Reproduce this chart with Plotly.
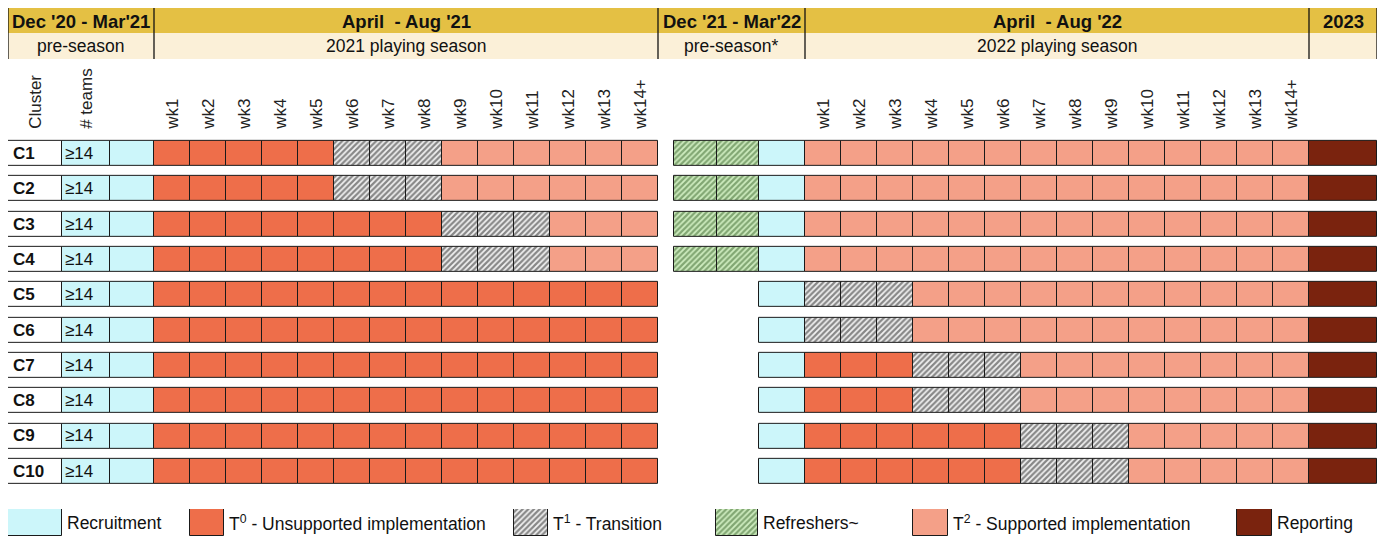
import plotly.graph_objects as go

# ---------------- data ----------------
clusters = ["C1", "C2", "C3", "C4", "C5", "C6", "C7", "C8", "C9", "C10"]
teams = ["≥14", "≥14", "≥14", "≥14", "≥14", "≥14", "≥14", "≥14", "≥14", "≥14"]
weeks = ["wk1", "wk2", "wk3", "wk4", "wk5", "wk6", "wk7", "wk8", "wk9",
         "wk10", "wk11", "wk12", "wk13", "wk14+"]

# pre-season 2020/21: R = recruitment
preseason21 = ["R", "R", "R", "R", "R", "R", "R", "R", "R", "R"]
# 2021 playing season, one char per week: 0 = T0, 1 = T1, 2 = T2
season21 = [
    "00000111222222",
    "00000111222222",
    "00000000111222",
    "00000000111222",
    "00000000000000",
    "00000000000000",
    "00000000000000",
    "00000000000000",
    "00000000000000",
    "00000000000000",
]
# pre-season 2021/22: F = refresher, R = recruitment, - = nothing
preseason22 = ["FFR", "FFR", "FFR", "FFR", "--R", "--R", "--R", "--R", "--R", "--R"]
# 2022 playing season
season22 = [
    "22222222222222",
    "22222222222222",
    "22222222222222",
    "22222222222222",
    "11122222222222",
    "11122222222222",
    "00011122222222",
    "00011122222222",
    "00000011122222",
    "00000011122222",
]
# 2023: P = reporting
year23 = ["P", "P", "P", "P", "P", "P", "P", "P", "P", "P"]

header_top = ["Dec '20 - Mar'21", "April  - Aug '21", "Dec '21 - Mar'22", "April  - Aug '22", "2023"]
header_sub = ["pre-season", "2021 playing season", "pre-season*", "2022 playing season", ""]

legend_codes = ["R", "0", "1", "F", "2", "P"]
legend_labels = ["Recruitment", "T<sup>0</sup> - Unsupported implementation", "T<sup>1</sup> - Transition",
                 "Refreshers~", "T<sup>2</sup> - Supported implementation", "Reporting"]

# ---------------- styles / layout geometry (page pixel units) ----------------
OFF = 8                      # page body margin
W, H = 1385 - OFF, 536 - OFF  # figure size
X0 = 8
W_CLUSTER, W_TEAMS, W_RECRUIT, W_WEEK = 54, 48, 44, 36
W_GAP, W_REFRESH, W_RECRUIT2, W_REPORT = 16, 42.5, 46, 68

styles = {
    "R": dict(color="#CCF6FA"),
    "0": dict(color="#EE6E4A"),
    "1": dict(color="#EFEFEF", pattern=dict(shape="/", fgcolor="#1c1c1c", bgcolor="#F2F2F2", size=4, solidity=0.55)),
    "F": dict(color="#CDEBBE", pattern=dict(shape="/", fgcolor="#335F25", bgcolor="#CFEDC0", size=4, solidity=0.55)),
    "2": dict(color="#F4A088"),
    "P": dict(color="#7A230E"),
}
LINE = dict(color="#1a1a1a", width=1)
FONT = "Liberation Sans, Arial, sans-serif"

# column edges
x = X0
col_cluster = (x, x + W_CLUSTER); x += W_CLUSTER
col_teams = (x, x + W_TEAMS); x += W_TEAMS
col_rec21 = (x, x + W_RECRUIT); x += W_RECRUIT
cols_wk21 = []
for _ in weeks:
    cols_wk21.append((x, x + W_WEEK)); x += W_WEEK
season21_end = x
x += W_GAP
cols_pre22 = [(x, x + W_REFRESH), (x + W_REFRESH, x + 2 * W_REFRESH),
              (x + 2 * W_REFRESH, x + 2 * W_REFRESH + W_RECRUIT2)]
x += 2 * W_REFRESH + W_RECRUIT2
cols_wk22 = []
for _ in weeks:
    cols_wk22.append((x, x + W_WEEK)); x += W_WEEK
col_rep = (x, x + W_REPORT)
x_end = x + W_REPORT

# collect cells per status
cells = {k: dict(y=[], base=[], w=[]) for k in styles}

def add(code, c, col):
    if code in cells:
        cells[code]["y"].append(c)
        cells[code]["base"].append(col[0])
        cells[code]["w"].append(col[1] - col[0])

for i, c in enumerate(clusters):
    add(preseason21[i], c, col_rec21)
    for j, ch in enumerate(season21[i]):
        add(ch, c, cols_wk21[j])
    for j, ch in enumerate(preseason22[i]):
        add(ch, c, cols_pre22[j])
    for j, ch in enumerate(season22[i]):
        add(ch, c, cols_wk22[j])
    add(year23[i], c, col_rep)

fig = go.Figure()
BARW = 0.71

# cluster and teams columns
fig.add_trace(go.Bar(orientation="h", y=clusters, x=[W_CLUSTER] * len(clusters),
                     base=[col_cluster[0]] * len(clusters), width=BARW,
                     marker=dict(color="white", line=LINE), showlegend=False, hoverinfo="skip"))
fig.add_trace(go.Bar(orientation="h", y=clusters, x=[W_TEAMS] * len(clusters),
                     base=[col_teams[0]] * len(clusters), width=BARW,
                     marker=dict(color=styles["R"]["color"], line=LINE), showlegend=False, hoverinfo="skip"))

for code, d in cells.items():
    if not d["y"]:
        continue
    fig.add_trace(go.Bar(orientation="h", y=d["y"], x=d["w"], base=d["base"], width=BARW,
                         marker=dict(**styles[code], line=LINE), showlegend=False, hoverinfo="skip"))

annotations = []
for i, c in enumerate(clusters):
    annotations.append(dict(x=col_cluster[0] + 3, y=c, xref="x", yref="y", text=f"<b>{c}</b>",
                            showarrow=False, xanchor="left", yanchor="middle",
                            font=dict(family=FONT, size=17, color="#111")))
    annotations.append(dict(x=col_teams[0] + 1, y=c, xref="x", yref="y", text=teams[i],
                            showarrow=False, xanchor="left", yanchor="middle",
                            font=dict(family=FONT, size=17, color="#111")))

# header bands
seg_edges = [X0, col_rec21[1], season21_end, cols_pre22[2][1], col_rep[0], x_end]
def py(px):
    return 1 - (px - OFF) / H

shapes = []
shapes.append(dict(type="rect", xref="x", yref="paper", x0=X0, x1=x_end, y0=py(33), y1=py(8),
                   fillcolor="#E4C044", line=dict(width=0), layer="below"))
shapes.append(dict(type="rect", xref="x", yref="paper", x0=X0, x1=x_end, y0=py(59), y1=py(33),
                   fillcolor="#FBF0D8", line=dict(width=0), layer="below"))
for e in seg_edges:
    shapes.append(dict(type="line", xref="x", yref="paper", x0=e, x1=e, y0=py(59), y1=py(8),
                       line=dict(color="#111", width=1.3)))
for k in range(5):
    xc = (seg_edges[k] + seg_edges[k + 1]) / 2
    annotations.append(dict(x=xc, y=py(21), xref="x", yref="paper", text=f"<b>{header_top[k]}</b>",
                            showarrow=False, xanchor="center", yanchor="middle",
                            font=dict(family=FONT, size=18.5, color="#111")))
    if header_sub[k]:
        annotations.append(dict(x=xc, y=py(46.5), xref="x", yref="paper", text=header_sub[k],
                                showarrow=False, xanchor="center", yanchor="middle",
                                font=dict(family=FONT, size=17.5, color="#111")))

# legend (drawn on its own axis)
legend_box_x = [(8, 62), (190, 224), (514, 548), (716, 758), (913, 948), (1237, 1272)]
for k, code in enumerate(legend_codes):
    b0, b1 = legend_box_x[k]
    fig.add_trace(go.Bar(orientation="h", y=[0], x=[b1 - b0], base=[b0], width=1, xaxis="x", yaxis="y2",
                         marker=dict(**styles[code], line=LINE), showlegend=False, hoverinfo="skip"))
    annotations.append(dict(x=b1 + 3, y=0, xref="x", yref="y2", text=legend_labels[k], showarrow=False,
                            xanchor="left", yanchor="middle", font=dict(family=FONT, size=17.5, color="#111")))

# tick labels for column heads
tickvals = [sum(col_cluster) / 2, sum(col_teams) / 2] + [sum(c) / 2 for c in cols_wk21] + [sum(c) / 2 for c in cols_wk22]
ticktext = ["Cluster", "# teams"] + weeks + weeks

row_pitch = 35.3
c1_center = 153.5
top_px = c1_center - row_pitch / 2 - OFF
bot_px = top_px + row_pitch * len(clusters)

fig.update_layout(
    width=W, height=H, margin=dict(l=0, r=0, t=0, b=0),
    paper_bgcolor="white", plot_bgcolor="white",
    barmode="overlay", bargap=0,
    xaxis=dict(range=[OFF, OFF + W], domain=[0, 1], side="top", tickmode="array", tickvals=tickvals,
               ticktext=ticktext, tickangle=-90, ticks="", showgrid=False, zeroline=False, showline=False,
               tickfont=dict(family=FONT, size=17, color="#222"), ticklabelstandoff=6, fixedrange=True),
    yaxis=dict(type="category", categoryorder="array", categoryarray=clusters, range=[len(clusters) - 0.5, -0.5],
               domain=[1 - bot_px / H, 1 - top_px / H], showticklabels=False, showgrid=False, zeroline=False,
               fixedrange=True),
    yaxis2=dict(domain=[0, 1 - (509 - OFF) / H], range=[-0.5, 0.5], anchor="x", showticklabels=False,
                showgrid=False, zeroline=False, fixedrange=True),
    shapes=shapes, annotations=annotations,
)

fig.write_html("out.html")
